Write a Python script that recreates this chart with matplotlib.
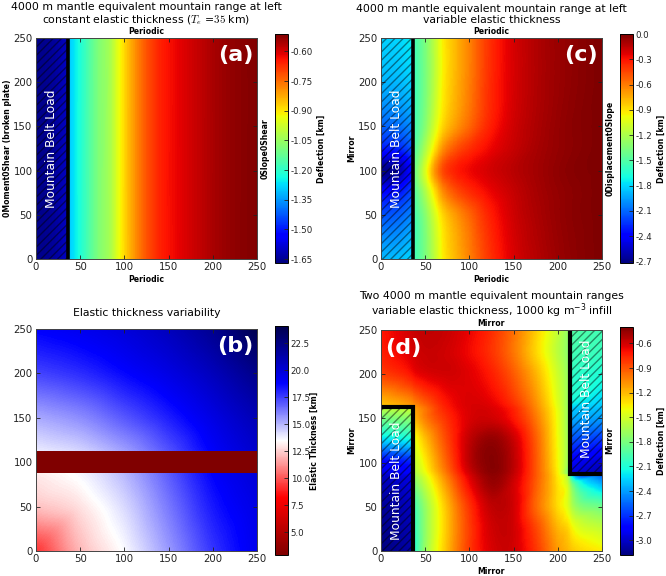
import numpy as np
import matplotlib
matplotlib.use("Agg")
import matplotlib.pyplot as plt
import matplotlib.tri as mtri
from matplotlib.patches import Rectangle

plt.rcParams['font.family'] = ['DejaVu Sans']
plt.rcParams['hatch.linewidth'] = 1.0

# ---------------- data ----------------
# (a) constant Te: deflection profile across x (km)
x_a = [0, 20, 35, 37, 50, 70, 85, 93, 110, 125, 140, 160, 185, 205, 225, 250]
defl_a = [-1.66, -1.64, -1.60, -1.30, -1.22, -1.09, -1.02, -0.94, -0.81, -0.72,
          -0.66, -0.62, -0.58, -0.55, -0.53, -0.515]
y_a = [0, 250]
load_a_x = [0, 36]

# (c) variable Te, single range
x_c = [0, 20, 35, 37, 50, 60, 70, 85, 100, 120, 150, 180, 210, 250]
y_c = [0, 50, 75, 100, 125, 150, 200, 250]
defl_c = [
    [-1.88, -1.86, -1.80, -1.58, -1.37, -1.16, -0.94, -0.77, -0.62, -0.42, -0.22, -0.12, -0.05, 0.0],
    [-2.17, -2.12, -2.02, -1.56, -1.32, -1.08, -0.86, -0.68, -0.54, -0.36, -0.19, -0.10, -0.04, 0.0],
    [-2.38, -2.32, -2.18, -1.52, -1.20, -0.92, -0.66, -0.48, -0.38, -0.28, -0.17, -0.09, -0.04, 0.0],
    [-2.70, -2.62, -2.35, -1.45, -1.05, -0.70, -0.46, -0.33, -0.27, -0.21, -0.14, -0.08, -0.03, 0.0],
    [-2.32, -2.28, -2.15, -1.52, -1.20, -0.92, -0.66, -0.48, -0.38, -0.28, -0.17, -0.09, -0.04, 0.0],
    [-2.12, -2.08, -2.00, -1.56, -1.32, -1.08, -0.86, -0.68, -0.54, -0.36, -0.19, -0.10, -0.04, 0.0],
    [-1.90, -1.88, -1.82, -1.58, -1.37, -1.16, -0.94, -0.76, -0.61, -0.40, -0.21, -0.11, -0.05, 0.0],
    [-1.82, -1.80, -1.74, -1.56, -1.36, -1.16, -0.94, -0.77, -0.62, -0.41, -0.21, -0.11, -0.05, 0.0],
]
load_c_x = [0, 36]

# (b) elastic thickness (km); weak band between band_y
x_b = [0, 50, 100, 150, 200, 250]
y_b = [0, 50, 87.5, 112.5, 150, 200, 250]
te_b = [
    [9.3, 12.0, 13.6, 15.6, 17.7, 19.3],
    [12.2, 12.9, 14.3, 16.3, 18.3, 19.6],
    [13.1, 13.7, 15.0, 16.9, 18.8, 20.0],
    [13.9, 14.4, 15.5, 17.1, 18.9, 20.3],
    [15.3, 15.9, 17.0, 18.2, 19.6, 21.0],
    [17.4, 17.9, 18.7, 19.6, 20.8, 22.3],
    [18.9, 19.3, 19.9, 20.8, 22.1, 24.0],
]
band_y = [87.5, 112.5]
band_te = 2.9

# (d) two ranges, variable Te, infill
x_d = [0, 35, 37, 50, 75, 100, 125, 150, 175, 200, 213, 215, 250]
y_d = [0, 25, 50, 75, 86, 88, 100, 125, 150, 162, 164, 200, 225, 250]
defl_d = [
    [-3.18, -3.08, -2.10, -1.70, -1.20, -0.82, -0.62, -0.60, -0.80, -1.10, -1.20, -1.22, -1.35],
    [-3.15, -3.05, -2.05, -1.72, -1.22, -0.83, -0.60, -0.60, -0.85, -1.18, -1.30, -1.35, -1.55],
    [-3.12, -3.02, -2.00, -1.70, -1.20, -0.80, -0.56, -0.60, -0.95, -1.30, -1.50, -1.58, -1.85],
    [-3.05, -2.95, -1.80, -1.55, -1.08, -0.68, -0.47, -0.60, -0.92, -1.32, -1.60, -1.75, -2.35],
    [-3.00, -2.90, -1.68, -1.45, -1.00, -0.62, -0.44, -0.57, -0.90, -1.35, -1.75, -2.10, -2.60],
    [-2.95, -2.85, -1.65, -1.42, -0.98, -0.60, -0.43, -0.56, -0.90, -1.36, -1.80, -2.95, -3.05],
    [-2.85, -2.75, -1.58, -1.35, -0.92, -0.55, -0.42, -0.55, -0.90, -1.38, -1.72, -2.88, -2.98],
    [-2.25, -2.15, -1.45, -1.22, -0.85, -0.56, -0.45, -0.58, -0.92, -1.40, -1.70, -2.62, -2.70],
    [-1.80, -1.72, -1.20, -1.02, -0.78, -0.62, -0.60, -0.72, -1.00, -1.42, -1.72, -2.35, -2.40],
    [-1.55, -1.50, -1.12, -0.98, -0.73, -0.62, -0.63, -0.76, -1.05, -1.44, -1.72, -2.25, -2.30],
    [-1.25, -1.10, -1.08, -0.95, -0.72, -0.62, -0.64, -0.78, -1.06, -1.45, -1.72, -2.20, -2.28],
    [-0.84, -0.70, -0.68, -0.63, -0.60, -0.64, -0.74, -0.92, -1.18, -1.52, -1.72, -2.05, -2.10],
    [-0.74, -0.62, -0.61, -0.58, -0.60, -0.68, -0.80, -1.00, -1.28, -1.58, -1.75, -1.98, -2.02],
    [-0.72, -0.59, -0.58, -0.56, -0.58, -0.66, -0.78, -0.98, -1.25, -1.55, -1.72, -1.92, -1.98],
]
load_d_left = ([0, 36], [0, 163])
load_d_right = ([214, 250], [87, 250])

ticks = [0, 50, 100, 150, 200, 250]
cb_ticks_a = [-1.65, -1.50, -1.35, -1.20, -1.05, -0.90, -0.75, -0.60]
cb_ticks_c = [-2.7, -2.4, -2.1, -1.8, -1.5, -1.2, -0.9, -0.6, -0.3, 0.0]
cb_ticks_b = [5.0, 7.5, 10.0, 12.5, 15.0, 17.5, 20.0, 22.5]
cb_ticks_d = [-3.0, -2.7, -2.4, -2.1, -1.8, -1.5, -1.2, -0.9, -0.6]
lims_a = (-1.67, -0.512)
lims_c = (-2.72, 0.0)
lims_b = (2.9, 24.1)
lims_d = (-3.18, -0.40)

# ---------------- figure ----------------
W, H = 666, 576
fig = plt.figure(figsize=(W / 100, H / 100), dpi=100)


def px_rect(l, t, r, b):
    return [l / W, 1 - b / H, (r - l) / W, (b - t) / H]


def field(ax, xs, ys, Z, region_fn, cmap, lims):
    """Smoothly render gridded samples; triangles joining different regions are cut."""
    xs = np.asarray(xs, float)
    ys = np.asarray(ys, float)
    X, Y = np.meshgrid(xs, ys)
    nx, ny = len(xs), len(ys)
    tris = []
    for j in range(ny - 1):
        for i in range(nx - 1):
            n = j * nx + i
            tris.append([n, n + 1, n + nx + 1])
            tris.append([n, n + nx + 1, n + nx])
    tris = np.array(tris)
    tri = mtri.Triangulation(X.ravel(), Y.ravel(), tris)
    reg = region_fn(X.ravel(), Y.ravel())
    r = reg[tris]
    tri.set_mask((r != r[:, :1]).any(axis=1))
    interp = mtri.CubicTriInterpolator(tri, np.asarray(Z, float).ravel(), kind='geom')
    n = 500
    xf = np.linspace(xs[0], xs[-1], n + 1)
    xf = 0.5 * (xf[1:] + xf[:-1])
    yf = np.linspace(ys[0], ys[-1], n + 1)
    yf = 0.5 * (yf[1:] + yf[:-1])
    Xf, Yf = np.meshgrid(xf, yf)
    Zf = interp(Xf, Yf)
    im = ax.imshow(Zf, extent=(xs[0], xs[-1], ys[0], ys[-1]), origin='lower',
                   cmap=cmap, vmin=lims[0], vmax=lims[1], interpolation='nearest',
                   aspect='auto', zorder=1)
    return im


BL = dict(fontsize=5.6, fontweight='bold')


def style_ax(ax):
    ax.set_xlim(0, 250)
    ax.set_ylim(0, 250)
    ax.set_xticks(ticks)
    ax.set_yticks(ticks)
    ax.tick_params(direction='in', length=3, width=0.6, labelsize=7.3,
                   top=True, right=True, pad=2.5, colors='#222222')
    for s in ax.spines.values():
        s.set_linewidth(0.7)
        s.set_color('#444444')
        s.set_zorder(6)


def boundary_labels(ax, bottom, top, left, right):
    ax.set_xlabel(bottom, labelpad=2, **BL)
    ax.set_ylabel(left, **BL)
    ax.yaxis.set_label_coords(-0.11, 0.5)
    ax.annotate(top, xy=(0.5, 1), xycoords='axes fraction', xytext=(0, 1.5),
                textcoords='offset points', ha='center', va='bottom', **BL)
    ax.annotate(right, xy=(1, 0.5), xycoords='axes fraction', xytext=(2.5, 0),
                textcoords='offset points', ha='left', va='center', rotation=90, **BL)


def letter(ax, s, left=False):
    if left:
        ax.text(0.02, 0.965, s, transform=ax.transAxes, ha='left', va='top',
                color='white', fontsize=16, fontweight='bold', zorder=7)
    else:
        ax.text(0.983, 0.968, s, transform=ax.transAxes, ha='right', va='top',
                color='white', fontsize=16, fontweight='bold', zorder=7)


def hatch_box(ax, xs, ys):
    ax.add_patch(Rectangle((xs[0], ys[0]), xs[1] - xs[0], ys[1] - ys[0],
                           facecolor='none', edgecolor=(0, 0, 0, 0.45),
                           linewidth=0, hatch='////', zorder=3))


def colorbar(mappable, rect, cticks, fmt, label, label_x):
    cax = fig.add_axes(rect)
    cb = fig.colorbar(mappable, cax=cax, ticks=cticks, format=fmt)
    cb.ax.tick_params(labelsize=6.2, direction='in', length=3, width=0.6, pad=2,
                      colors='#222222')
    cb.outline.set_linewidth(0.7)
    cax.text(label_x, 0.5, label, transform=cax.transAxes, rotation=90,
             ha='center', va='center', fontsize=5.6, fontweight='bold')
    return cb


TITLE = dict(fontsize=7.8, linespacing=1.05)
MBL = dict(rotation=90, ha='center', va='center', color='white', fontsize=8.8, zorder=5)

# ---- (a)
axA = fig.add_axes(px_rect(36, 38, 257, 259))
mA = field(axA, x_a, y_a, np.vstack([defl_a, defl_a]),
           lambda x, y: (x <= load_a_x[1]).astype(int), 'jet', lims_a)
style_ax(axA)
hatch_box(axA, load_a_x, [0, 250])
axA.plot([load_a_x[1]] * 2, [0, 250], color='black', lw=2.6, zorder=4)
axA.text(17.5, 125, 'Mountain Belt Load', **MBL)
boundary_labels(axA, 'Periodic', 'Periodic', '0Moment0Shear (broken plate)', '0Slope0Shear')
letter(axA, '(a)')
axA.set_title('4000 m mantle equivalent mountain range at left\n'
              r'constant elastic thickness ($T_e$ =$35$ km)', pad=11,
              math_fontfamily='cm', **TITLE)
colorbar(mA, px_rect(275, 34, 288, 263), cb_ticks_a, '%.2f', 'Deflection [km]', 3.58)

# ---- (c)
axC = fig.add_axes(px_rect(381, 38, 602, 259))
mC = field(axC, x_c, y_c, defl_c,
           lambda x, y: (x <= load_c_x[1]).astype(int), 'jet', lims_c)
style_ax(axC)
hatch_box(axC, load_c_x, [0, 250])
axC.plot([load_c_x[1]] * 2, [0, 250], color='black', lw=2.6, zorder=4)
axC.text(17.5, 125, 'Mountain Belt Load', **MBL)
boundary_labels(axC, 'Periodic', 'Periodic', 'Mirror', '0Displacement0Slope')
letter(axC, '(c)')
axC.set_title('4000 m mantle equivalent mountain range at left\n'
              'variable elastic thickness', pad=11, **TITLE)
colorbar(mC, px_rect(620, 34, 633, 263), cb_ticks_c, '%.1f', 'Deflection [km]', 3.15)

# ---- (b)
axB = fig.add_axes(px_rect(36, 329, 257, 551))
mB = field(axB, x_b, y_b, te_b,
           lambda x, y: (y >= np.mean(band_y)).astype(int), 'seismic_r', lims_b)
axB.pcolormesh(x_b, band_y, np.full((1, len(x_b) - 1), band_te), cmap='seismic_r',
               vmin=lims_b[0], vmax=lims_b[1], zorder=2)
style_ax(axB)
letter(axB, '(b)')
axB.set_title('Elastic thickness variability', pad=9, **TITLE)
colorbar(mB, px_rect(275, 326, 288, 555), cb_ticks_b, '%.1f', 'Elastic Thickness [km]', 3.0)

# ---- (d)
lx, ly = load_d_left
rx, ry = load_d_right


def region_d(x, y):
    reg = np.zeros(len(x), int)
    reg[(x <= lx[1]) & (y <= ly[1])] = 1
    reg[(x >= rx[0]) & (y >= ry[0])] = 2
    return reg


axD = fig.add_axes(px_rect(381, 330, 602, 551))
mD = field(axD, x_d, y_d, defl_d, region_d, 'jet', lims_d)
style_ax(axD)
hatch_box(axD, lx, ly)
hatch_box(axD, rx, ry)
axD.plot([lx[0], lx[1], lx[1]], [ly[1], ly[1], ly[0]], color='black', lw=3,
         zorder=4, solid_joinstyle='miter')
axD.plot([rx[1], rx[0], rx[0]], [ry[0], ry[0], ry[1]], color='black', lw=3,
         zorder=4, solid_joinstyle='miter')
axD.text(17.5, 80, 'Mountain Belt Load', **MBL)
axD.text(233, 172, 'Mountain Belt Load', **MBL)
boundary_labels(axD, 'Mirror', 'Mirror', 'Mirror', 'Mirror')
letter(axD, '(d)', left=True)
axD.set_title('Two 4000 m mantle equivalent mountain ranges\n'
              r'variable elastic thickness, 1000 kg m$^{-3}$ infill', pad=11, **TITLE)
colorbar(mD, px_rect(620, 327, 633, 555), cb_ticks_d, '%.1f', 'Deflection [km]', 3.15)

fig.savefig('out.png', dpi=100)
